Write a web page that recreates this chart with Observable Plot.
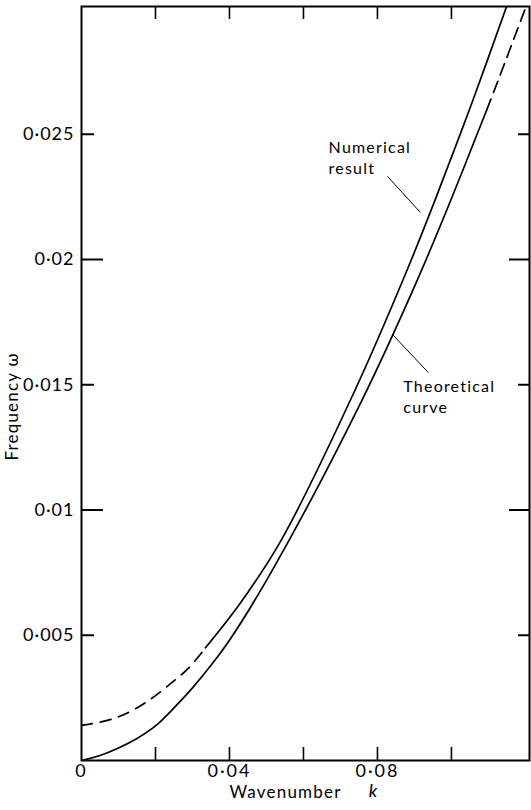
<!DOCTYPE html>
<html><head><meta charset="utf-8">
<script src="https://cdn.jsdelivr.net/npm/d3@7"></script>
<script src="https://cdn.jsdelivr.net/npm/@observablehq/plot@0.6"></script>
<style>
body{margin:0;background:#fff}
svg{display:block}
svg text{letter-spacing:1.2px}
svg g.xlab text{letter-spacing:2px}
svg g.ylab text{letter-spacing:1px}
</style>
</head><body><div id="chart"></div>
<script>
// Numerical result (upper-left curve)
const numK = [0, 0.007, 0.0124, 0.0178, 0.0235, 0.029, 0.0335, 0.043, 0.054, 0.0738, 0.0876, 0.0958, 0.1057, 0.1152];
const numW = [0.0014, 0.0016, 0.0019, 0.00236, 0.003, 0.0037, 0.0045, 0.0063, 0.0088, 0.01474, 0.01943, 0.02246, 0.02632, 0.03022];
// Theoretical curve (lower-right curve)
const theoK = [0, 0.005, 0.01, 0.015, 0.02, 0.025, 0.03, 0.035, 0.04, 0.0516, 0.0757, 0.0903, 0.0985, 0.1095, 0.1119, 0.1203];
const theoW = [0, 0.0002, 0.0005, 0.00088, 0.00138, 0.0021, 0.0029, 0.0038, 0.0048, 0.0076, 0.01435, 0.01902, 0.02189, 0.02596, 0.02687, 0.03015];
// portions drawn dashed
const numDashedUpTo = 0.0335;
const theoDashedFrom = 0.1095;

const xTickValues = [0.02, 0.04, 0.06, 0.08, 0.10];
const xLabelValues = [0, 0.04, 0.08];
const yMajorTicks = [0.01, 0.02];
const yMinorTicks = [0.005, 0.015, 0.025];
const yLabelValues = [0.005, 0.01, 0.015, 0.02, 0.025];

const annoText = ["Numerical\nresult", "Theoretical\ncurve"];
const annoK = [0.0668, 0.087];
const annoW = [0.0241, 0.01456];
const leaderK1 = [0.0827, 0.0841];
const leaderW1 = [0.02332, 0.0170];
const leaderK2 = [0.0916, 0.0938];
const leaderW2 = [0.02188, 0.01548];

const xTitle = "Wavenumber";
const xTitleSym = "k";
const yTitle = "Frequency ω";

const num = numK.map((k, i) => ({k, w: numW[i]}));
const theo = theoK.map((k, i) => ({k, w: theoW[i]}));
const annos = annoText.map((t, i) => ({t, k: annoK[i], w: annoW[i]}));
const leaders = leaderK1.map((k, i) => ({k1: k, w1: leaderW1[i], k2: leaderK2[i], w2: leaderW2[i]}));
const fmt = d => d === 0 ? "0" : String(+d.toFixed(4)).replace(".", "·");

const W = 531, H = 810, mL = 81, mR = 2, mT = 6, mB = 50;
const innerW = W - mL - mR, innerH = H - mT - mB;
const font = "Lato, 'Open Sans', sans-serif";

const plot = Plot.plot({
  width: W, height: H,
  marginLeft: mL, marginRight: mR, marginTop: mT, marginBottom: mB,
  style: {fontFamily: font, background: "#fff", color: "#000"},
  x: {domain: [0, 0.1211], axis: null},
  y: {domain: [0, 0.0301], axis: null},
  marks: [
    Plot.frame({stroke: "#000", strokeWidth: 2}),
    // inward ticks
    Plot.tickX(xTickValues, {x: d => d, insetTop: innerH - 13, stroke: "#000", strokeWidth: 1.6}),
    Plot.tickX(xTickValues, {x: d => d, insetBottom: innerH - 13, stroke: "#000", strokeWidth: 1.6}),
    Plot.tickY(yMajorTicks, {y: d => d, insetRight: innerW - 22, stroke: "#000", strokeWidth: 2}),
    Plot.tickY(yMinorTicks, {y: d => d, insetRight: innerW - 13, stroke: "#000", strokeWidth: 2}),
    Plot.tickY(yMajorTicks, {y: d => d, insetLeft: innerW - 20, stroke: "#000", strokeWidth: 2}),
    Plot.tickY(yMinorTicks, {y: d => d, insetLeft: innerW - 11, stroke: "#000", strokeWidth: 2}),
    // tick labels
    Plot.text(xLabelValues, {x: d => d, frameAnchor: "bottom", dy: 16, text: fmt, fontSize: 18, fill: "#000", className: "xlab"}),
    Plot.text(yLabelValues, {y: d => d, frameAnchor: "left", dx: -7, textAnchor: "end", text: fmt, fontSize: 18, fill: "#000", className: "ylab"}),
    // curves
    Plot.line(num.filter(d => d.k <= numDashedUpTo), {x: "k", y: "w", curve: "catmull-rom", stroke: "#000", strokeWidth: 1.7, strokeDasharray: "11,8", clip: true}),
    Plot.line(num.filter(d => d.k >= numDashedUpTo), {x: "k", y: "w", curve: "catmull-rom", stroke: "#000", strokeWidth: 1.7, clip: true}),
    Plot.line(theo.filter(d => d.k <= theoDashedFrom), {x: "k", y: "w", curve: "catmull-rom", stroke: "#000", strokeWidth: 1.7, clip: true}),
    Plot.line(theo.filter(d => d.k >= theoDashedFrom), {x: "k", y: "w", curve: "catmull-rom", stroke: "#000", strokeWidth: 1.7, strokeDasharray: "12,7", clip: true}),
    // annotations
    Plot.text(annos, {x: "k", y: "w", text: "t", textAnchor: "start", fontSize: 16, lineHeight: 1.3, fill: "#000"}),
    Plot.link(leaders, {x1: "k1", y1: "w1", x2: "k2", y2: "w2", stroke: "#000", strokeWidth: 1}),
    // axis titles
    Plot.text([xTitle], {frameAnchor: "bottom", dx: 285 - (mL + innerW / 2), dy: 37, text: d => d, fontSize: 17, fill: "#000"}),
    Plot.text([xTitleSym], {frameAnchor: "bottom", dx: 373 - (mL + innerW / 2), dy: 36, text: d => d, fontSize: 18, fontStyle: "italic", fill: "#000"}),
    Plot.text([yTitle], {frameAnchor: "left", textAnchor: "middle", dx: -69, dy: 406 - (mT + innerH / 2), rotate: -90, text: d => d, fontSize: 17, fill: "#000"})
  ]
});
document.getElementById("chart").appendChild(plot);
</script>
</body></html>
